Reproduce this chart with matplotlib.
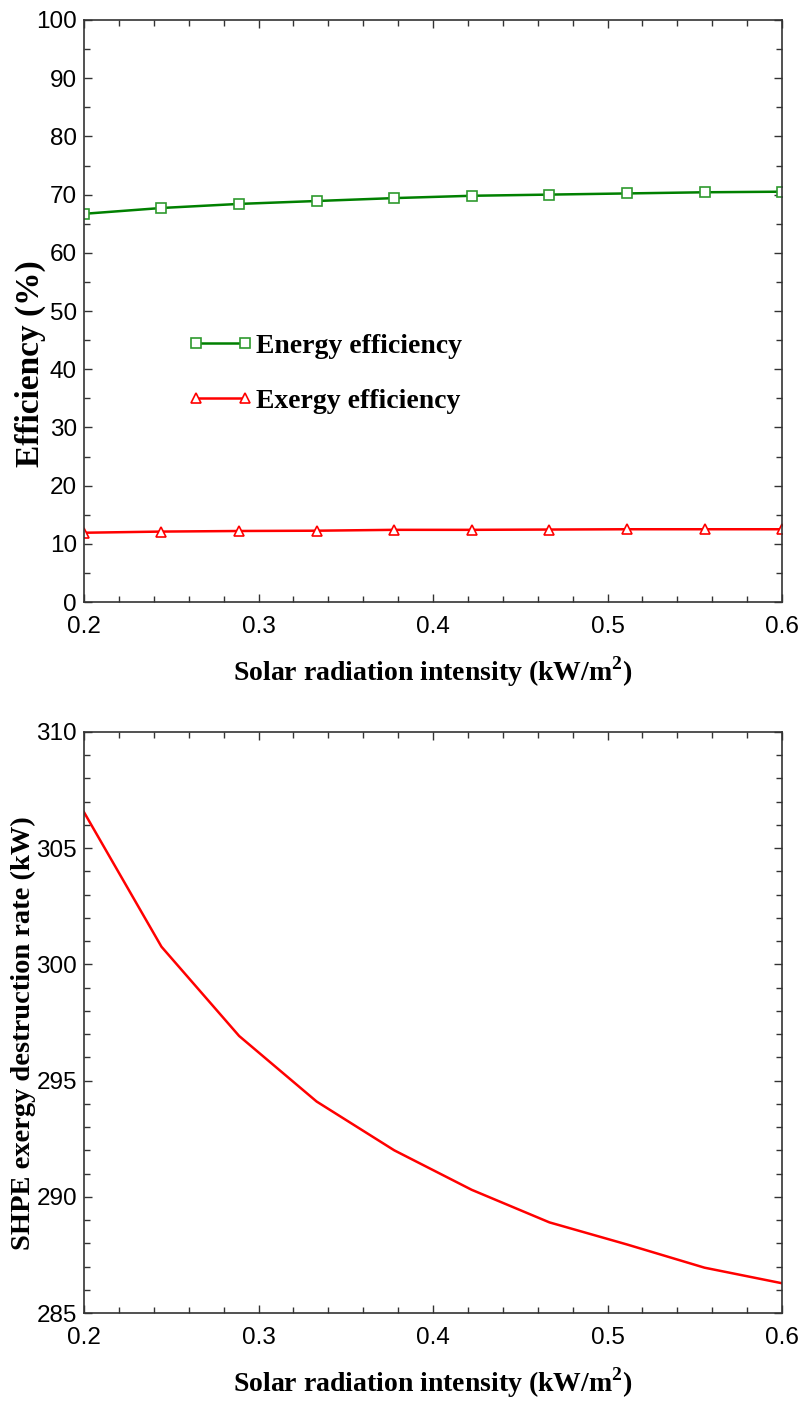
import numpy as np
import matplotlib
matplotlib.use("Agg")
from matplotlib import pyplot as plt
from matplotlib.ticker import MultipleLocator

# solar radiation intensity (kW/m2)
intensity = [0.2, 0.2444, 0.2889, 0.3333, 0.3778, 0.4222, 0.4667, 0.5111, 0.5556, 0.6]
# efficiencies (%)
energy_eff = [66.7, 67.7, 68.4, 68.9, 69.4, 69.8, 70.0, 70.2, 70.4, 70.5]
exergy_eff = [11.9, 12.1, 12.2, 12.25, 12.4, 12.4, 12.45, 12.5, 12.5, 12.5]
# SHPE exergy destruction rate (kW)
destruction = [306.55, 300.76, 296.92, 294.1, 292.0, 290.3, 288.9, 287.95, 286.95, 286.28]

plt.rcParams["mathtext.fontset"] = "custom"
plt.rcParams["mathtext.rm"] = "Liberation Serif:bold"
plt.rcParams["mathtext.bf"] = "Liberation Serif:bold"

tick_font = {"family": "Liberation Sans", "size": 17.5}
label_font = {"family": "Liberation Serif", "size": 20, "weight": "bold"}

fig = plt.figure(figsize=(8.01, 14.02), dpi=100)
ax1 = fig.add_axes([84 / 801, 1 - 602 / 1402, 698 / 801, 582 / 1402])
ax2 = fig.add_axes([84 / 801, 1 - 1313 / 1402, 698 / 801, 581 / 1402])

ax1.plot(intensity, energy_eff, color="#008000", lw=1.8, marker="s", ms=7,
         mfc="white", mec="#2e9a2e", mew=1.2, label="Energy efficiency")
ax1.plot(intensity, exergy_eff, color="#ff0000", lw=1.8, marker="^", ms=7,
         mfc="white", mec="#ff0000", mew=1.2, label="Exergy efficiency")
ax1.set_ylim(0, 100)
ax1.yaxis.set_major_locator(MultipleLocator(10))
ax1.yaxis.set_minor_locator(MultipleLocator(5))
ax1.set_ylabel("Efficiency (%)", family="Liberation Serif", size=24, weight="bold")
ax1.yaxis.set_label_coords(-0.055, 0.409)

leg = ax1.legend(loc="upper left", bbox_to_anchor=(0.113, 0.505), frameon=False,
                 numpoints=2, handlelength=2.35, handletextpad=0.1, labelspacing=1.07,
                 prop={"family": "Liberation Serif", "size": 20, "weight": "bold"})

ax2.plot(intensity, destruction, color="#ff0000", lw=1.8)
ax2.set_ylim(285, 310)
ax2.yaxis.set_major_locator(MultipleLocator(5))
ax2.yaxis.set_minor_locator(MultipleLocator(1))
ax2.set_ylabel("SHPE exergy destruction rate (kW)", family="Liberation Serif", size=20.5,
               weight="bold")
ax2.yaxis.set_label_coords(-0.069, 0.482)

for ax in (ax1, ax2):
    ax.set_xlim(0.2, 0.6)
    ax.xaxis.set_major_locator(MultipleLocator(0.1))
    ax.xaxis.set_minor_locator(MultipleLocator(0.02))
    ax.set_xlabel("Solar radiation intensity (kW/m$^{2}$)", fontdict=label_font, labelpad=12)
    ax.tick_params(which="both", direction="in", top=True, right=True, color="#333333",
                   width=1.0)
    ax.tick_params(which="major", length=6)
    ax.tick_params(axis="x", which="major", pad=10)
    ax.tick_params(axis="y", which="major", pad=5)
    ax.tick_params(which="minor", length=4)
    for lab in ax.get_xticklabels() + ax.get_yticklabels():
        lab.set_fontfamily(tick_font["family"])
        lab.set_fontsize(tick_font["size"])
    for sp in ax.spines.values():
        sp.set_color("#333333")
        sp.set_linewidth(1.2)

fig.savefig("out.png", dpi=100)
